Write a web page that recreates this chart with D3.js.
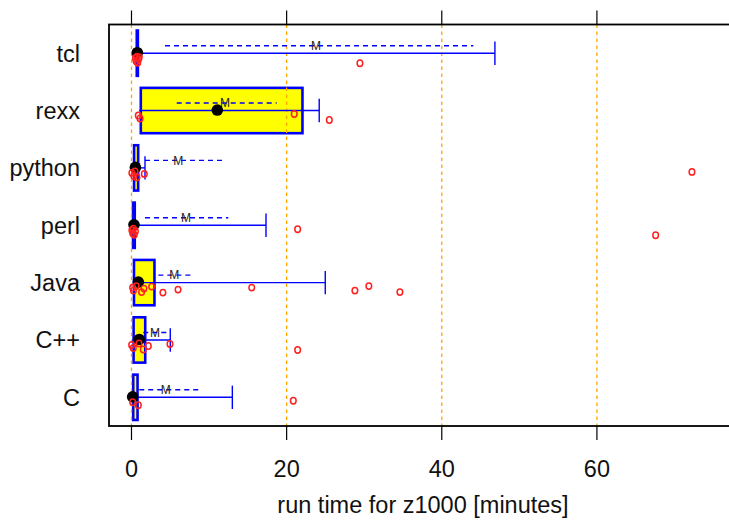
<!DOCTYPE html>
<html><head><meta charset="utf-8">
<script src="https://cdn.jsdelivr.net/npm/d3@7"></script>
<style>body{margin:0;background:#fff}</style>
</head><body>
<svg id="chart" width="729" height="520"></svg>
<script>
// ---- data (minutes) ----
const categories = ["tcl", "rexx", "python", "perl", "Java", "C++", "C"];
const q10    = [0.62, 1.0, 0.2, 0.1, 0.2, 0.1, 0.1];
const q25    = [0.68, 1.2, 0.33, 0.20, 0.32, 0.27, 0.22];
const median = [0.75, 11.06, 0.5, 0.32, 0.88, 1.0, 0.15];
const q75    = [0.82, 22.04, 0.86, 0.42, 2.96, 1.77, 0.78];
const q90    = [46.85, 24.2, 1.74, 17.34, 24.98, 5.0, 13.0];
const mean   = [23.78, 12.05, 6.03, 7.02, 5.52, 3.03, 4.4];
const meanLo = [4.32, 5.83, 1.74, 1.74, 3.46, 1.52, 1.0];
const meanHi = [44.06, 18.72, 11.84, 12.48, 7.84, 5.05, 8.7];
const pointsTcl    = [0.5, 0.6, 0.7, 0.8, 0.9, 1.0, 29.45];
const pointsRexx   = [0.88, 1.1, 20.98, 25.5];
const pointsPython = [0.05, 0.3, 0.45, 0.7, 1.65, 72.25];
const pointsPerl   = [0.05, 0.15, 0.25, 0.35, 0.5, 21.42, 67.57];
const pointsJava   = [0.15, 0.25, 0.6, 1.3, 1.6, 2.6, 4.05, 6.0, 15.5, 28.8, 30.6, 34.6];
const pointsCpp    = [0.02, 0.23, 0.97, 1.52, 2.17, 4.96, 21.42];
const pointsC      = [0.15, 0.88, 20.86];
const points = [pointsTcl, pointsRexx, pointsPython, pointsPerl, pointsJava, pointsCpp, pointsC];
const xTicks = [0, 20, 40, 60];
const xLabel = "run time for z1000 [minutes]";

(function () {
// ---- layout ----
const svg = d3.select("#chart");
const L = 109, T = 24.5, B = 426, R = 735;
const x = d3.scaleLinear().domain([-2.9, 77.8]).range([L, R]);
const y = d3.scalePoint().domain(categories).range([T, B]).padding(0.5);
const step = y.step();
const boxH = step * 0.79;
const font = "'Liberation Sans', Arial, Helvetica, sans-serif";

const g = svg.append("g");
const rows = categories.map((c, i) => ({c, i}));

// boxes
g.selectAll("rect.box").data(rows).join("rect")
  .attr("x", d => x(q25[d.i]))
  .attr("width", d => Math.max(0, x(q75[d.i]) - x(q25[d.i])))
  .attr("y", d => y(d.c) - boxH / 2)
  .attr("height", boxH)
  .attr("fill", "#ffff00").attr("stroke", "#0000ff").attr("stroke-width", 2.6);

// grid lines (dashed orange)
g.selectAll("line.grid").data(xTicks).join("line")
  .attr("x1", d => x(d)).attr("x2", d => x(d))
  .attr("y1", T).attr("y2", B)
  .attr("stroke", "#ffa500").attr("stroke-width", 1.3).attr("stroke-dasharray", "3.5,3.5");

// whiskers
g.selectAll("line.wh").data(rows).join("line")
  .attr("x1", d => x(q10[d.i])).attr("x2", d => x(q90[d.i]))
  .attr("y1", d => y(d.c)).attr("y2", d => y(d.c))
  .attr("stroke", "#0000ff").attr("stroke-width", 1.4);
g.selectAll("line.whEnd").data(rows).join("line")
  .attr("x1", d => x(q90[d.i])).attr("x2", d => x(q90[d.i]))
  .attr("y1", d => y(d.c) - 11.7).attr("y2", d => y(d.c) + 11.7)
  .attr("stroke", "#0000ff").attr("stroke-width", 1.4);

// mean +- SE dashed
g.selectAll("line.mean").data(rows).join("line")
  .attr("x1", d => x(meanLo[d.i])).attr("x2", d => x(meanHi[d.i]))
  .attr("y1", d => y(d.c) - 7.5).attr("y2", d => y(d.c) - 7.5)
  .attr("stroke", "#0000ff").attr("stroke-width", 1.4).attr("stroke-dasharray", "5,4");
g.selectAll("text.m").data(rows).join("text")
  .attr("x", d => x(mean[d.i])).attr("y", d => y(d.c) - 7.5 + 4.3)
  .attr("text-anchor", "middle").attr("font-family", font).attr("font-size", 12)
  .attr("fill", "#222").text("M");

// median dots
g.selectAll("circle.med").data(rows).join("circle")
  .attr("cx", d => x(median[d.i])).attr("cy", d => y(d.c) - 0.5)
  .attr("r", 5.8).attr("fill", "#000");

// individual points (small deterministic vertical jitter)
const jit = [5, 8, 3.5, 9.5, 6, 4, 10, 7];
rows.forEach(r => {
  g.append("g").selectAll("ellipse").data(points[r.i]).join("ellipse")
    .attr("cx", v => x(v)).attr("cy", (v, k) => y(r.c) + jit[k % jit.length])
    .attr("rx", 2.8).attr("ry", 3.2)
    .attr("fill", "none").attr("stroke", "#ff2020").attr("stroke-width", 1.5);
});

// frame
svg.append("rect").attr("x", L).attr("y", T)
  .attr("width", R - L).attr("height", B - T)
  .attr("fill", "none").attr("stroke", "#000").attr("stroke-width", 1.8);

// axis ticks
svg.append("g").selectAll("line").data(xTicks).join("line")
  .attr("x1", d => x(d)).attr("x2", d => x(d)).attr("y1", B).attr("y2", B + 14)
  .attr("stroke", "#000").attr("stroke-width", 1.2);
svg.append("g").selectAll("line").data(xTicks).join("line")
  .attr("x1", d => x(d)).attr("x2", d => x(d)).attr("y1", T).attr("y2", T - 14)
  .attr("stroke", "#000").attr("stroke-width", 1.2);
svg.append("g").selectAll("text").data(xTicks).join("text")
  .attr("x", d => x(d)).attr("y", 477)
  .attr("text-anchor", "middle").attr("font-family", font).attr("font-size", 23.5)
  .attr("fill", "#111").text(d => d);
svg.append("text").attr("x", 423).attr("y", 513)
  .attr("text-anchor", "middle").attr("font-family", font).attr("font-size", 23.5)
  .attr("fill", "#111").text(xLabel);

// category labels
svg.append("g").selectAll("text").data(categories).join("text")
  .attr("x", 80).attr("y", d => y(d) + 8.5)
  .attr("text-anchor", "end").attr("font-family", font).attr("font-size", 23.5)
  .attr("fill", "#111").text(d => d);
})();
</script>
</body></html>
